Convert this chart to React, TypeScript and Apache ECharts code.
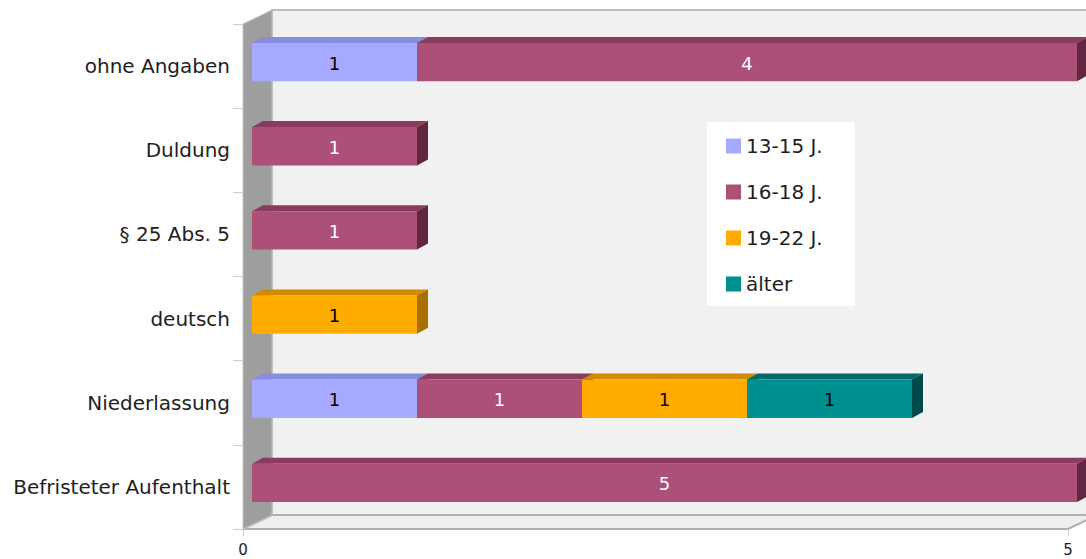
import React, { useEffect, useRef } from "react";
import * as echarts from "echarts";

// Residence status categories, listed from top to bottom
const categories = [
  "ohne Angaben",
  "Duldung",
  "§ 25 Abs. 5",
  "deutsch",
  "Niederlassung",
  "Befristeter Aufenthalt",
];

const ageGroups = ["13-15 J.", "16-18 J.", "19-22 J.", "älter"];

const age13to15 = [1, 0, 0, 0, 1, 0];
const age16to18 = [4, 1, 1, 0, 1, 5];
const age19to22 = [0, 0, 0, 1, 1, 0];
const ageOlder = [0, 0, 0, 0, 1, 0];

const seriesValues = [age13to15, age16to18, age19to22, ageOlder];

const xTicks = [0, 5];

// front / top / side shades plus label colour per age group
const palette = [
  { front: "#a6aaff", top: "#868ddc", side: "#6c72c0", label: "#000000" },
  { front: "#ad5078", top: "#8b3b5d", side: "#632640", label: "#ffffff" },
  { front: "#ffab00", top: "#d08c00", side: "#a86f00", label: "#000000" },
  { front: "#008f8f", top: "#006a6a", side: "#004a4a", label: "#000000" },
];

const FONT = "'DejaVu Sans', Verdana, sans-serif";

// plot frame (front plane) and 3D depths
const GRID_LEFT = 243;
const GRID_TOP = 24;
const GRID_W = 825;
const GRID_H = 505;
const WALL_DX = 29;
const WALL_DY = -14;
const BAR_OFF_X = 9;
const BAR_OFF_Y = -4;
const BAR_DX = 11;
const BAR_DY = -6;

export default function App() {
  const ref = useRef<HTMLDivElement>(null);

  useEffect(() => {
    if (!ref.current) return;
    const chart = echarts.init(ref.current, undefined, { renderer: "svg" });

    const gl = GRID_LEFT;
    const gt = GRID_TOP;
    const gr = GRID_LEFT + GRID_W;
    const gb = GRID_TOP + GRID_H;

    const series = ageGroups.map((name, gi) => {
      const data: number[][] = [];
      categories.forEach((_, ci) => {
        const v = seriesValues[gi][ci];
        if (v <= 0) return;
        let start = 0;
        for (let k = 0; k < gi; k++) start += seriesValues[k][ci];
        data.push([ci, start, start + v, v]);
      });
      const col = palette[gi];
      return {
        type: "custom",
        name,
        itemStyle: { color: col.front },
        encode: { x: [1, 2], y: 0 },
        data,
        renderItem: (_params: any, api: any) => {
          const ci = api.value(0);
          const s = api.value(1);
          const e = api.value(2);
          const v = api.value(3);
          const p0 = api.coord([s, ci]);
          const p1 = api.coord([e, ci]);
          const band = api.size([0, 1])[1];
          const h = band * 0.455;
          const x0 = p0[0] + BAR_OFF_X;
          const x1 = p1[0] + BAR_OFF_X;
          const yc = p0[1] + BAR_OFF_Y;
          const yt = yc - h / 2;
          const yb = yc + h / 2;
          return {
            type: "group",
            children: [
              {
                type: "polygon",
                shape: {
                  points: [
                    [x0, yt],
                    [x1, yt],
                    [x1 + BAR_DX, yt + BAR_DY],
                    [x0 + BAR_DX, yt + BAR_DY],
                  ],
                },
                style: { fill: col.top },
              },
              {
                type: "polygon",
                shape: {
                  points: [
                    [x1, yt],
                    [x1 + BAR_DX, yt + BAR_DY],
                    [x1 + BAR_DX, yb + BAR_DY],
                    [x1, yb],
                  ],
                },
                style: { fill: col.side },
              },
              {
                type: "rect",
                shape: { x: x0, y: yt, width: x1 - x0, height: h },
                style: { fill: col.front },
              },
              {
                type: "text",
                style: {
                  text: String(v),
                  x: (x0 + x1) / 2,
                  y: yc + 1,
                  align: "center",
                  verticalAlign: "middle",
                  fill: col.label,
                  font: `18px ${FONT}`,
                },
              },
            ],
          };
        },
      };
    });

    chart.setOption({
      animation: false,
      backgroundColor: "#ffffff",
      textStyle: { fontFamily: FONT },
      grid: {
        left: GRID_LEFT,
        top: GRID_TOP,
        width: GRID_W,
        height: GRID_H,
        containLabel: false,
      },
      xAxis: {
        type: "value",
        min: xTicks[0],
        max: xTicks[xTicks.length - 1],
        interval: xTicks[1] - xTicks[0],
        axisLine: { show: false },
        splitLine: { show: false },
        axisTick: {
          show: true,
          length: 7,
          lineStyle: { color: "#c8c8c8", width: 1 },
        },
        axisLabel: {
          color: "#222",
          fontSize: 15,
          margin: 13,
          fontFamily: FONT,
        },
      },
      yAxis: {
        type: "category",
        inverse: true,
        data: categories,
        axisLine: { show: false },
        axisTick: {
          show: true,
          length: 10,
          lineStyle: { color: "#cccccc", width: 1 },
        },
        axisLabel: {
          color: "#1e1e1e",
          fontSize: 20,
          margin: 13,
          fontFamily: FONT,
        },
        splitLine: { show: false },
      },
      legend: {
        orient: "vertical",
        left: 707,
        top: 122,
        backgroundColor: "#ffffff",
        padding: [14, 32, 12, 19],
        itemGap: 26,
        itemWidth: 15,
        itemHeight: 15,
        icon: "rect",
        selectedMode: false,
        data: ageGroups,
        textStyle: {
          color: "#1e1e1e",
          fontSize: 20,
          lineHeight: 20,
          fontFamily: FONT,
        },
      },
      graphic: [
        {
          type: "rect",
          z: 0,
          shape: {
            x: gl + WALL_DX,
            y: gt + WALL_DY,
            width: GRID_W + 20,
            height: GRID_H,
          },
          style: { fill: "#f1f1f1", stroke: "#bdbdbd", lineWidth: 2 },
        },
        {
          type: "polygon",
          z: 0,
          shape: {
            points: [
              [gl, gb],
              [gl + WALL_DX, gb + WALL_DY],
              [gr + WALL_DX, gb + WALL_DY],
              [gr, gb],
            ],
          },
          style: { fill: "#efefef", stroke: "#b0b0b0", lineWidth: 2 },
        },
        {
          type: "polygon",
          z: 0,
          shape: {
            points: [
              [gl, gt],
              [gl + WALL_DX, gt + WALL_DY],
              [gl + WALL_DX, gb + WALL_DY],
              [gl, gb],
            ],
          },
          style: { fill: "#9e9e9e", stroke: "#c4c4c4", lineWidth: 1 },
        },
      ],
      series,
    });

    return () => chart.dispose();
  }, []);

  return (
    <div
      ref={ref}
      style={{ position: "fixed", left: 0, top: 0, width: 1086, height: 559 }}
    />
  );
}
